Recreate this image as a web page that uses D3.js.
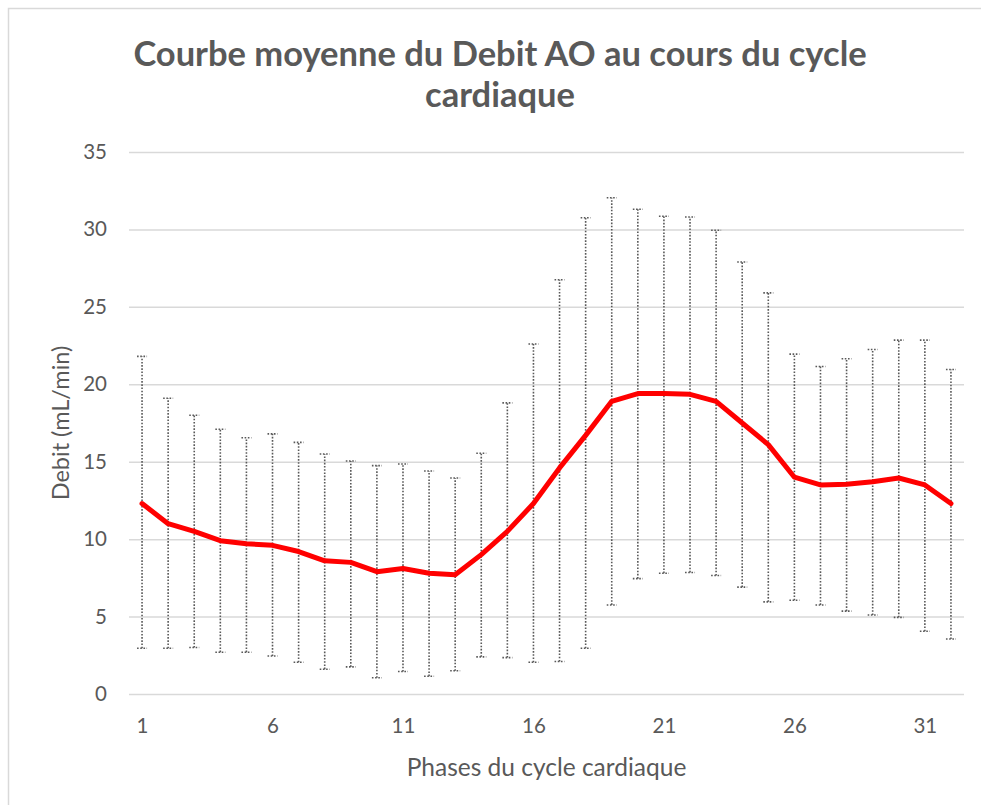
<!DOCTYPE html>
<html>
<head>
<meta charset="utf-8">
<script src="https://cdn.jsdelivr.net/npm/d3@7"></script>
<style>
  body { margin: 0; background: #fff; }
  text { font-family: Lato, "Open Sans", sans-serif; fill: #595959; }
</style>
</head>
<body>
<script>
// Phases du cycle cardiaque (1..32)
const phases = d3.range(1, 33);

// Mean flow (mL/min)
const meanFlow = [12.3, 11.0, 10.5, 9.9, 9.7, 9.6, 9.2, 8.6, 8.5, 7.9,
                  8.1, 7.8, 7.7, 9.0, 10.5, 12.3, 14.6, 16.7, 18.9, 19.4,
                  19.4, 19.35, 18.9, 17.5, 16.1, 14.0, 13.5, 13.55, 13.7, 13.95,
                  13.5, 12.3];

// Top of each error bar
const upperBar = [21.8, 19.1, 18.0, 17.1, 16.55, 16.8, 16.25, 15.5, 15.05, 14.75,
                  14.85, 14.4, 13.95, 15.55, 18.8, 22.6, 26.75, 30.75, 32.05, 31.3,
                  30.85, 30.8, 29.95, 27.9, 25.9, 21.95, 21.15, 21.65, 22.25, 22.85,
                  22.85, 20.95];

// Bottom of each error bar
const lowerBar = [2.95, 2.95, 3.0, 2.7, 2.7, 2.45, 2.05, 1.6, 1.75, 1.05,
                  1.45, 1.15, 1.5, 2.4, 2.35, 2.05, 2.1, 2.95, 5.75, 7.45,
                  7.8, 7.85, 7.65, 6.9, 5.95, 6.05, 5.75, 5.35, 5.1, 4.95,
                  4.05, 3.55];

const yTicks = [0, 5, 10, 15, 20, 25, 30, 35];
const xTickLabels = [1, 6, 11, 16, 21, 26, 31];

const width = 981, height = 805;
var plot = {left: 129, right: 964, top: 152, bottom: 694};

var svg = d3.select("body").append("svg")
    .attr("width", width)
    .attr("height", height);

// chart area border (runs off the right and bottom of the picture)
svg.append("rect")
    .attr("x", 8.5).attr("y", 8.5)
    .attr("width", 1000).attr("height", 1000)
    .attr("fill", "white")
    .attr("stroke", "#d9d9d9")
    .attr("stroke-width", 1.5);

var x = d3.scalePoint()
    .domain(phases)
    .range([plot.left, plot.right])
    .padding(0.5);

var y = d3.scaleLinear()
    .domain([0, 35])
    .range([plot.bottom, plot.top]);

// y axis + gridlines
var yAxis = svg.append("g")
    .attr("transform", "translate(" + plot.left + ",0)")
    .call(d3.axisLeft(y).tickValues(yTicks).tickSize(-(plot.right - plot.left)).tickPadding(22));
yAxis.select(".domain").remove();
yAxis.selectAll(".tick line").attr("stroke", "#d9d9d9").attr("stroke-width", 1.5);
yAxis.selectAll(".tick text").attr("font-size", "20.5px");

// x axis
var xAxis = svg.append("g")
    .attr("transform", "translate(0," + plot.bottom + ")")
    .call(d3.axisBottom(x).tickValues(xTickLabels).tickSize(0).tickPadding(24));
xAxis.select(".domain").remove();
xAxis.selectAll(".tick text").attr("font-size", "20.5px");

// error bars (dotted)
var bars = svg.append("g").attr("class", "errbars");
phases.forEach(function(p, i) {
  var cx = x(p);
  bars.append("line")
      .attr("x1", cx).attr("x2", cx)
      .attr("y1", y(lowerBar[i])).attr("y2", y(upperBar[i]))
      .attr("stroke", "#595959").attr("stroke-width", 1.6)
      .attr("stroke-dasharray", "1.6,1.6");
  [upperBar[i], lowerBar[i]].forEach(function(v) {
    bars.append("line")
        .attr("x1", cx - 5).attr("x2", cx + 5)
        .attr("y1", y(v)).attr("y2", y(v))
        .attr("stroke", "#595959").attr("stroke-width", 1.6)
        .attr("stroke-dasharray", "1.6,1.6");
  });
});

// mean curve
var line = d3.line()
    .x(function(d, i) { return x(phases[i]); })
    .y(function(d) { return y(d); });

svg.append("path")
    .datum(meanFlow)
    .attr("d", line)
    .attr("fill", "none")
    .attr("stroke", "#ff0000")
    .attr("stroke-width", 5)
    .attr("stroke-linejoin", "round")
    .attr("stroke-linecap", "round");

// titles
svg.append("text")
    .attr("x", 500).attr("y", 66)
    .attr("text-anchor", "middle")
    .attr("font-size", "34.5px").attr("font-weight", "bold")
    .text("Courbe moyenne du Debit AO au cours du cycle");
svg.append("text")
    .attr("x", 500).attr("y", 107)
    .attr("text-anchor", "middle")
    .attr("font-size", "34.5px").attr("font-weight", "bold")
    .text("cardiaque");

svg.append("text")
    .attr("x", (plot.left + plot.right) / 2).attr("y", 776)
    .attr("text-anchor", "middle")
    .attr("font-size", "24.5px")
    .text("Phases du cycle cardiaque");

svg.append("text")
    .attr("transform", "translate(69," + ((plot.top + plot.bottom) / 2) + ") rotate(-90)")
    .attr("text-anchor", "middle")
    .attr("font-size", "23.5px")
    .text("Debit (mL/min)");
</script>
</body>
</html>
